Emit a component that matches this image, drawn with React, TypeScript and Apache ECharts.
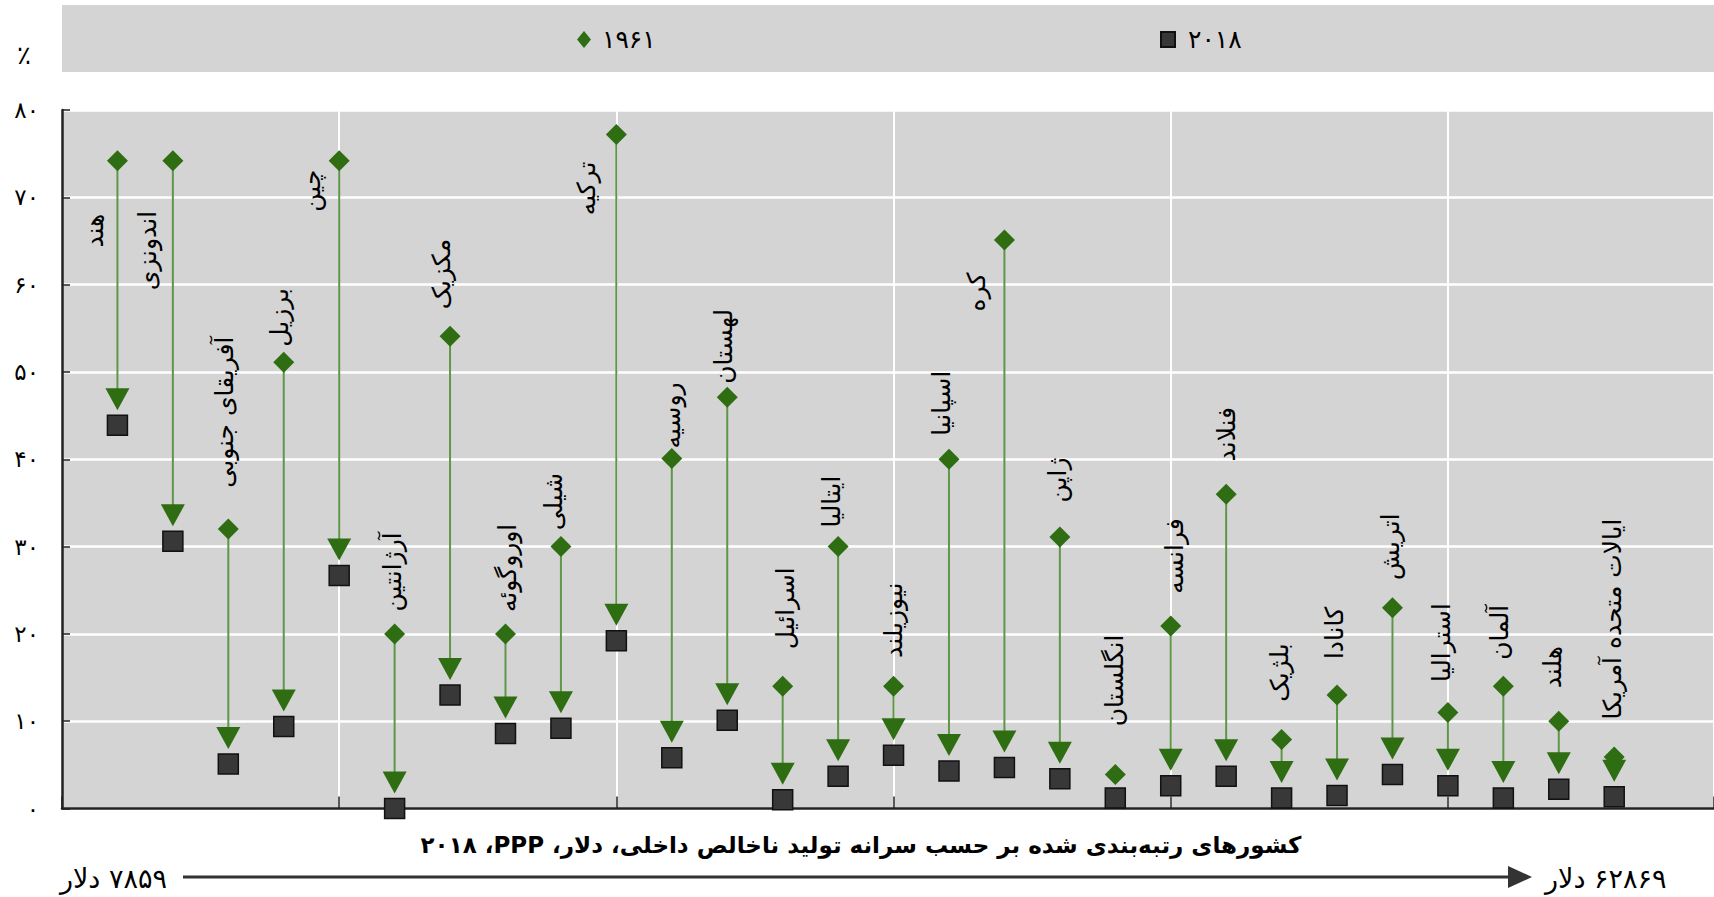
import React, { useEffect, useRef } from "react";
import * as echarts from "echarts";

// ---- data ----
const countries = [
  "هند", "اندونزی", "آفریقای جنوبی", "برزیل", "چین", "آرژانتین", "مکزیک",
  "اوروگوئه", "شیلی", "ترکیه", "روسیه", "لهستان", "اسرائیل", "ایتالیا",
  "نیوزیلند", "اسپانیا", "کره", "ژاپن", "انگلستان", "فرانسه", "فنلاند",
  "بلژیک", "کانادا", "اتریش", "استرالیا", "آلمان", "هلند", "ایالات متحده آمریکا",
];
const share1961 = [
  74.2, 74.2, 32.0, 51.1, 74.2, 20.0, 54.1, 20.0, 30.0, 77.2, 40.1, 47.1, 14.0, 30.0,
  14.0, 40.0, 65.1, 31.1, 3.9, 20.9, 36.0, 7.9, 13.0, 23.0, 11.0, 14.0, 10.0, 5.9,
];
const share2018 = [
  43.9, 30.6, 5.1, 9.4, 26.7, 0.0, 13.0, 8.6, 9.2, 19.2, 5.8, 10.1, 1.0, 3.7,
  6.1, 4.3, 4.7, 3.4, 1.2, 2.6, 3.7, 1.2, 1.5, 3.9, 2.6, 1.2, 2.2, 1.35,
];
const yTickLabels = ["۰", "۱۰", "۲۰", "۳۰", "۴۰", "۵۰", "۶۰", "۷۰", "۸۰"];
const seriesNames = ["۱۹۶۱", "۲۰۱۸"];
const yUnit = "٪";
const xTitle = "کشورهای رتبه‌بندی شده بر حسب سرانه تولید ناخالص داخلی، دلار، PPP،\u200F ۲۰۱۸";
const lowLabel = "۷۸۵۹ دلار";
const highLabel = "۶۲۸۶۹ دلار";

// ---- styling ----
const RLE = "\u202B";
const PDF = "\u202C";
const FONT = "'DejaVu Sans', sans-serif";
const GREEN = "#2e6d12";
const LINE_GREEN = "#5f9748";
const BG = "#d4d4d4";
// label offsets (px) from the 1961 marker, per country
const labelOffsets = [
  [-23, 70], [-25, 90], [-4, -117], [-4, -45], [-28, 30], [-2, -62], [-9, -62],
  [2, -66], [-7, -45], [-30, 54], [0, -43], [-4, -51], [3, -78], [-7, -45],
  [0, -66], [-7, -56], [-28, 52], [-2, -57], [-1, -94], [4, -70], [0, -60],
  [-2, -67], [-3, -62], [-2, -61], [-6, -70], [-4, -54], [-6, -54], [-2, -138],
];

export default function App() {
  const ref = useRef<HTMLDivElement>(null);

  useEffect(() => {
    if (!ref.current) return;
    const chart = echarts.init(ref.current, null, { renderer: "svg" });

    const d1961 = share1961.map((v, i) => [i + 1, v]);
    const d2018 = share2018.map((v, i) => [i + 1, v]);
    const dArrow = share1961.map((v, i) => [i + 1, v, share2018[i]]);

    const option: any = {
      animation: false,
      textStyle: { fontFamily: FONT },
      grid: {
        left: 62,
        right: 0,
        top: 110,
        bottom: 88.5,
        show: true,
        backgroundColor: BG,
        borderWidth: 0,
      },
      legend: [
        {
          data: [seriesNames[0]],
          left: 572,
          top: 22,
          icon: "diamond",
          itemWidth: 14,
          itemHeight: 17,
          textStyle: { fontSize: 25, color: "#000", fontFamily: FONT, padding: [0, 0, 0, 6] },
          z: 5,
        },
        {
          data: [seriesNames[1]],
          left: 1155,
          top: 22,
          icon: "rect",
          itemWidth: 14,
          itemHeight: 15,
          textStyle: { fontSize: 25, color: "#000", fontFamily: FONT, padding: [0, 0, 0, 8] },
          z: 5,
        },
      ],
      xAxis: {
        type: "value",
        min: 0,
        max: 29.8,
        interval: 5,
        axisLine: { show: true, onZero: false, lineStyle: { color: "#222", width: 2.5 } },
        axisTick: { show: true, inside: true, length: 12, lineStyle: { color: "#222", width: 1.5 } },
        axisLabel: { show: false },
        splitLine: { show: true, lineStyle: { color: "#fff", width: 2 } },
      },
      yAxis: {
        type: "value",
        min: 0,
        max: 80,
        interval: 10,
        axisLine: { show: true, lineStyle: { color: "#222", width: 2.5 } },
        axisTick: { show: true, inside: true, length: 8, lineStyle: { color: "#222", width: 1.5 } },
        axisLabel: {
          margin: 23,
          fontSize: 23,
          color: "#000",
          fontFamily: FONT,
          formatter: (v: number) => yTickLabels[Math.round(v / 10)],
        },
        splitLine: { show: true, lineStyle: { color: "#fff", width: 2.5 } },
      },
      series: [
        {
          type: "custom",
          name: "arrows",
          data: dArrow,
          z: 2,
          silent: true,
          renderItem: (params: any, api: any) => {
            const i = params.dataIndex;
            const x = api.value(0);
            const p1 = api.coord([x, api.value(1)]);
            const p2 = api.coord([x, api.value(2)]);
            const children: any[] = [];
            const tipY = p2[1] - 15;
            const baseY = tipY - 22;
            if (p2[1] - p1[1] >= 30) {
              children.push({
                type: "line",
                shape: { x1: p1[0], y1: p1[1], x2: p1[0], y2: baseY + 2 },
                style: { stroke: LINE_GREEN, lineWidth: 2 },
              });
              children.push({
                type: "polygon",
                shape: { points: [[p1[0] - 12, baseY], [p1[0] + 12, baseY], [p1[0], tipY]] },
                style: { fill: GREEN },
              });
            }
            const off = labelOffsets[i];
            children.push({
              type: "text",
              x: p1[0] + off[0],
              y: p1[1] + off[1],
              rotation: Math.PI / 2,
              style: {
                text: RLE + countries[i] + PDF,
                fontSize: 25,
                fontFamily: FONT,
                fill: "#000",
                align: "center",
                verticalAlign: "middle",
              },
            });
            return { type: "group", children };
          },
        },
        {
          type: "scatter",
          name: seriesNames[0],
          data: d1961,
          symbol: "diamond",
          symbolSize: [21, 21],
          itemStyle: { color: GREEN, opacity: 1 },
          z: 4,
        },
        {
          type: "scatter",
          name: seriesNames[1],
          data: d2018,
          symbol: "rect",
          symbolSize: [20, 20],
          itemStyle: { color: "#383838", borderColor: "#111", borderWidth: 1.5, opacity: 1 },
          z: 4,
        },
      ],
      graphic: [
        {
          type: "rect",
          shape: { x: 62, y: 5, width: 1652, height: 67 },
          style: { fill: BG },
          z: 0,
        },
        {
          type: "text",
          x: 24,
          y: 55,
          style: { text: yUnit, fontSize: 26, fontFamily: FONT, fill: "#000", align: "center", verticalAlign: "middle" },
        },
        {
          type: "text",
          x: 861,
          y: 845,
          style: {
            text: RLE + xTitle + PDF,
            fontSize: 23,
            fontWeight: "bold",
            fontFamily: FONT,
            fill: "#000",
            align: "center",
            verticalAlign: "middle",
          },
        },
        {
          type: "line",
          shape: { x1: 183, y1: 877, x2: 1512, y2: 877 },
          style: { stroke: "#333", lineWidth: 3 },
        },
        {
          type: "polygon",
          shape: { points: [[1508, 866], [1532, 877], [1508, 888]] },
          style: { fill: "#333" },
        },
        {
          type: "text",
          x: 167,
          y: 878,
          style: { text: RLE + lowLabel + PDF, fontSize: 27, fontFamily: FONT, fill: "#000", align: "right", verticalAlign: "middle" },
        },
        {
          type: "text",
          x: 1545,
          y: 878,
          style: { text: RLE + highLabel + PDF, fontSize: 27, fontFamily: FONT, fill: "#000", align: "left", verticalAlign: "middle" },
        },
      ],
    };

    chart.setOption(option);
    return () => chart.dispose();
  }, []);

  return (
    <div
      ref={ref}
      style={{ position: "fixed", left: 0, top: 0, width: 1714, height: 897, background: "#fff" }}
    />
  );
}
